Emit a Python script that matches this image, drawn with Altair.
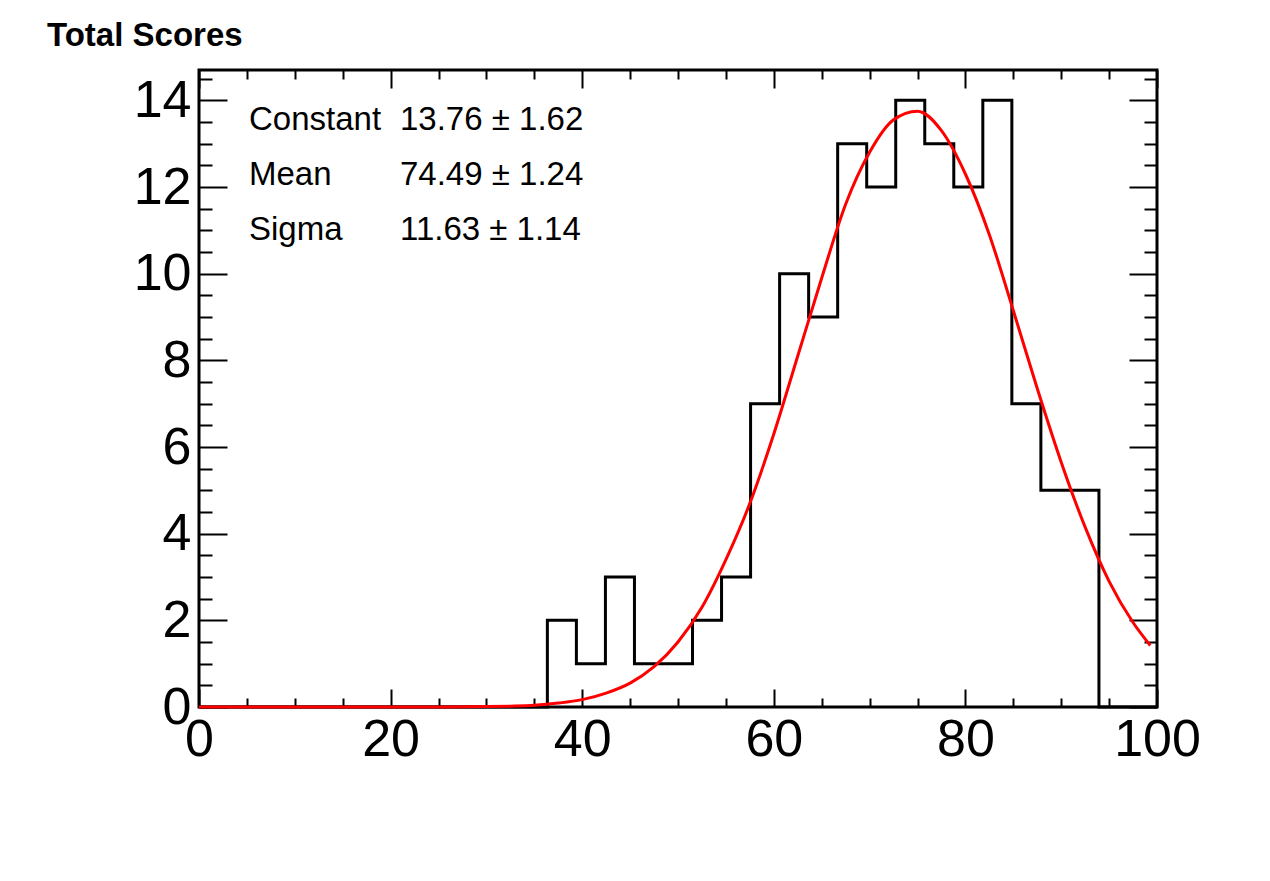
import altair as alt
import pandas as pd

# ---------------- data ----------------
x_min, x_max, n_bins = 0.0, 100.0, 33
bin_counts = [0, 0, 0, 0, 0, 0, 0, 0, 0, 0, 0, 0,
              2, 1, 3, 1, 1, 2, 3, 7, 10, 9, 13, 12, 14, 13, 12, 14, 7, 5, 5,
              0, 0]

# red fit curve
curve_x = [0, 5, 10, 15, 20, 25, 30, 32.5, 35, 37.5, 40, 42.5, 45, 47.5, 50,
           52.5, 55, 57.5, 60, 62.5, 65, 67.5, 70, 72.5, 75, 77.5, 80, 82.5,
           85, 87.5, 90, 92.5, 95, 97.5, 99.3]
curve_y = [0, 0, 0, 0, 0, 0, 0.01, 0.02, 0.04, 0.09, 0.17, 0.32, 0.55, 0.93, 1.5,
           2.3, 3.4, 4.7, 6.3, 8.1, 9.9, 11.6, 12.8, 13.55, 13.75, 13.3, 12.3, 10.9,
           9.15, 7.35, 5.65, 4.15, 2.9, 1.95, 1.42]

stat_names = ["Constant", "Mean", "Sigma"]
stat_values = ["13.76 \u00b1 1.62", "74.49 \u00b1 1.24", "11.63 \u00b1 1.14"]

title_text = "Total Scores"
x_label_values = [0, 20, 40, 60, 80, 100]
x_tick_values = [i * 5 for i in range(21)]
y_label_values = [0, 2, 4, 6, 8, 10, 12, 14]
y_tick_values = [i * 0.5 for i in range(30)]
y_max = 14.7

# ---------------- tables ----------------
bw = (x_max - x_min) / n_bins
edges = [x_min + i * bw for i in range(n_bins + 1)]
hist_df = pd.DataFrame({"x": edges, "y": bin_counts + [bin_counts[-1]]})
curve_df = pd.DataFrame({"x": curve_x, "y": curve_y})
names_df = pd.DataFrame({"t": ["\n".join(stat_names)]})
vals_df = pd.DataFrame({"t": ["\n".join(stat_values)]})

W, H = 958, 637
FONT = "Liberation Sans"
xs = alt.Scale(domain=[x_min, x_max], nice=False, zero=False)
ys = alt.Scale(domain=[0, y_max], nice=False, zero=False)

x_major = {"condition": {"test": "datum.value % 20 === 0", "value": 18}, "value": 9}
y_major = {"condition": {"test": "datum.value % 2 === 0", "value": 28}, "value": 13}

label_x_axis = alt.Axis(orient="bottom", values=x_label_values, ticks=False, tickSize=0,
                        domain=False, grid=False, labelFont=FONT, labelFontSize=52,
                        labelColor="black", labelPadding=7, labelFlush=False,
                        labelOverlap=False, format="d", title=None)
label_y_axis = alt.Axis(orient="left", values=y_label_values, ticks=False, tickSize=0,
                        domain=False, grid=False, labelFont=FONT, labelFontSize=52,
                        labelColor="black", labelPadding=8, labelFlush=False,
                        labelOverlap=False, format="d", title=None)


def tick_axis(orient, offset, values, size):
    return alt.Axis(orient=orient, offset=offset, values=values, ticks=True,
                    tickSize=size, tickColor="black", tickWidth=2, labels=False,
                    domain=False, grid=False, title=None)


hist = alt.Chart(hist_df).mark_line(interpolate="step-after", color="black",
                                     strokeWidth=3).encode(
    x=alt.X("x:Q", scale=xs, axis=label_x_axis),
    y=alt.Y("y:Q", scale=ys, axis=label_y_axis),
)

curve = alt.Chart(curve_df).mark_line(interpolate="monotone", color="#ff0000",
                                       strokeWidth=3).encode(
    x=alt.X("x:Q", scale=xs, axis=tick_axis("top", -H, x_tick_values, x_major)),
    y=alt.Y("y:Q", scale=ys, axis=tick_axis("right", -W, y_tick_values, y_major)),
)

ghost = alt.Chart(curve_df).mark_line(strokeOpacity=0).encode(
    x=alt.X("x:Q", scale=xs, axis=tick_axis("bottom", -H, x_tick_values, x_major)),
    y=alt.Y("y:Q", scale=ys, axis=tick_axis("left", -W, y_tick_values, y_major)),
)

names = alt.Chart(names_df).mark_text(align="left", baseline="alphabetic", font=FONT,
                                      fontSize=33, color="black", lineBreak="\n",
                                      lineHeight=55).encode(
    text="t:N", x=alt.value(50), y=alt.value(60))

vals = alt.Chart(vals_df).mark_text(align="left", baseline="alphabetic", font=FONT,
                                     fontSize=33, color="black", lineBreak="\n",
                                     lineHeight=55).encode(
    text="t:N", x=alt.value(201), y=alt.value(60))

chart = alt.layer(hist, curve, ghost, names, vals).resolve_axis(
    x="independent", y="independent"
).properties(
    width=W, height=H,
    background="white",
    autosize=alt.AutoSizeParams(type="none"),
    padding={"left": 191, "top": 62, "right": 95, "bottom": 150},
    title=alt.TitleParams(text=title_text, anchor="start", frame="group", dx=-152,
                          dy=35, offset=25, baseline="alphabetic", font=FONT,
                          fontSize=33, fontWeight="bold", color="black"),
).configure_view(stroke="black", strokeWidth=3)

chart.save("out.html", embed_options={"renderer": "svg", "actions": False})
